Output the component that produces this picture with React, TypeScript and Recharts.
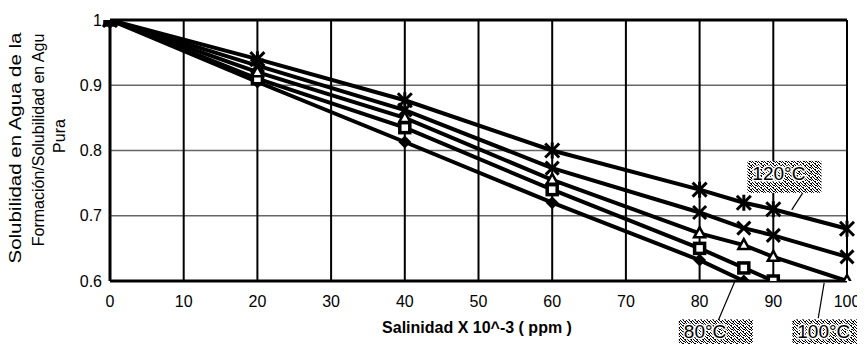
import React from "react";
import {
  LineChart,
  Line,
  CartesianGrid,
  XAxis,
  YAxis,
  ReferenceLine,
  ReferenceDot,
} from "recharts";

const FONT = "'Liberation Sans', Arial, sans-serif";

// salinity (x 10^-3 ppm) and solubility ratio per temperature
const salinidad = [0, 20, 40, 60, 80, 86, 90, 100];
const sol80 = [1, 0.905, 0.813, 0.72, 0.632, 0.6, 0.58, 0.535];
const sol90 = [1, 0.91, 0.835, 0.74, 0.65, 0.62, 0.6, 0.555];
const sol100 = [1, 0.92, 0.85, 0.755, 0.673, 0.655, 0.637, 0.6];
const sol110 = [1, 0.93, 0.862, 0.773, 0.705, 0.681, 0.67, 0.637];
const sol120 = [1, 0.94, 0.877, 0.8, 0.74, 0.72, 0.71, 0.68];

const xTicks = [0, 10, 20, 30, 40, 50, 60, 70, 80, 90, 100];
const yTicks = [0.6, 0.7, 0.8, 0.9, 1];

const data = salinidad.map((s, i) => ({
  s,
  t80: sol80[i],
  t90: sol90[i],
  t100: sol100[i],
  t110: sol110[i],
  t120: sol120[i],
}));

// speckle texture for the temperature tags
const grano = [
  [0, 0], [3, 0], [1, 1], [4, 1], [5, 1], [2, 2], [0, 3],
  [3, 3], [4, 3], [1, 4], [5, 4], [2, 5], [3, 5], [5, 2],
];

type DotProps = { cx?: number; cy?: number };

const StarDot = ({ cx, cy }: DotProps) => {
  if (cx == null || cy == null || isNaN(cy)) return null;
  const r = 7;
  return (
    <g stroke="#000" strokeWidth={3}>
      <line x1={cx - r} y1={cy - r} x2={cx + r} y2={cy + r} />
      <line x1={cx - r} y1={cy + r} x2={cx + r} y2={cy - r} />
      <line x1={cx} y1={cy - r - 1} x2={cx} y2={cy + r + 1} />
    </g>
  );
};

const CrossDot = ({ cx, cy }: DotProps) => {
  if (cx == null || cy == null || isNaN(cy)) return null;
  const r = 6.5;
  return (
    <g stroke="#000" strokeWidth={3}>
      <line x1={cx - r} y1={cy - r} x2={cx + r} y2={cy + r} />
      <line x1={cx - r} y1={cy + r} x2={cx + r} y2={cy - r} />
    </g>
  );
};

const TriDot = ({ cx, cy }: DotProps) => {
  if (cx == null || cy == null || isNaN(cy)) return null;
  return (
    <polygon
      points={`${cx},${cy - 6} ${cx + 5.5},${cy + 4} ${cx - 5.5},${cy + 4}`}
      fill="#fff"
      stroke="#000"
      strokeWidth={2.5}
    />
  );
};

const SquareDot = ({ cx, cy }: DotProps) => {
  if (cx == null || cy == null || isNaN(cy)) return null;
  return (
    <rect x={cx - 5} y={cy - 5} width={10} height={10} fill="#fff" stroke="#000" strokeWidth={3.5} />
  );
};

const DiamondDot = ({ cx, cy }: DotProps) => {
  if (cx == null || cy == null || isNaN(cy)) return null;
  return (
    <polygon
      points={`${cx},${cy - 6.5} ${cx + 6.5},${cy} ${cx},${cy + 6.5} ${cx - 6.5},${cy}`}
      fill="#000"
    />
  );
};

const TempTag = ({ cx, cy, text, id }: { cx?: number; cy?: number; text: string; id: string }) => {
  if (cx == null || cy == null) return null;
  return (
    <g>
      <defs>
        <pattern id={id} width={6} height={6} patternUnits="userSpaceOnUse">
          <rect width={6} height={6} fill="#fff" />
          {grano.map(([gx, gy], i) => (
            <rect key={i} x={gx} y={gy} width={1} height={1} fill="#000" />
          ))}
        </pattern>
      </defs>
      <rect x={cx - 37} y={cy - 19} width={74} height={32} fill={`url(#${id})`} />
      <text
        x={cx - 32}
        y={cy}
        fontFamily={FONT}
        fontSize={19}
        fill="#000"
        stroke="#fff"
        strokeWidth={3}
        paintOrder="stroke"
      >
        {text}
      </text>
    </g>
  );
};

const EjeY = () => (
  <g fontFamily={FONT} fontSize={16} fill="#000">
    <text
      transform="translate(13,140) rotate(-90)"
      textAnchor="middle"
      textLength={231}
      lengthAdjust="spacingAndGlyphs"
    >
      Solubilidad en Agua de la
    </text>
    <text transform="translate(36,132) rotate(-90)" textAnchor="middle">
      Formación/Solubilidad en Agu
    </text>
    <text transform="translate(57,128) rotate(-90)" textAnchor="middle">
      Pura
    </text>
  </g>
);

const EjeX = () => (
  <text x={469} y={325} textAnchor="middle" fontFamily={FONT} fontSize={16} fontWeight="bold" fill="#000">
    Salinidad X 10^-3 ( ppm )
  </text>
);

const App: React.FC = () => {
  return (
    <div>
      <LineChart
        width={857}
        height={336}
        data={data}
        margin={{ top: 12, right: 18, bottom: 33, left: 0 }}
      >
        <CartesianGrid vertical={false} stroke="#666" strokeWidth={1.5} />
        <CartesianGrid horizontal={false} stroke="#000" strokeWidth={2} />
        <XAxis
          dataKey="s"
          type="number"
          domain={[0, 100]}
          ticks={xTicks}
          height={30}
          tickSize={0}
          tickMargin={15}
          axisLine={{ stroke: "#000", strokeWidth: 3 }}
          tick={{ fill: "#000", fontSize: 16, fontFamily: FONT }}
          label={<EjeX />}
        />
        <YAxis
          type="number"
          domain={[0.6, 1]}
          allowDataOverflow
          ticks={yTicks}
          width={102}
          tickSize={0}
          tickMargin={8}
          tickFormatter={(v: number) => (v === 1 ? "1" : v.toFixed(1))}
          axisLine={{ stroke: "#000", strokeWidth: 3 }}
          tick={{ fill: "#000", fontSize: 16, fontFamily: FONT }}
          label={<EjeY />}
        />
        <ReferenceLine y={1} stroke="#000" strokeWidth={3} />

        <Line
          dataKey="t80"
          stroke="#000"
          strokeWidth={4}
          isAnimationActive={false}
          dot={(p: any) => <DiamondDot key={`d-${p.index}`} cx={p.cx} cy={p.cy} />}
        />
        <Line
          dataKey="t90"
          stroke="#000"
          strokeWidth={4}
          isAnimationActive={false}
          dot={(p: any) => <SquareDot key={`q-${p.index}`} cx={p.cx} cy={p.cy} />}
        />
        <Line
          dataKey="t100"
          stroke="#000"
          strokeWidth={4}
          isAnimationActive={false}
          dot={(p: any) => <TriDot key={`t-${p.index}`} cx={p.cx} cy={p.cy} />}
        />
        <Line
          dataKey="t110"
          stroke="#000"
          strokeWidth={4}
          isAnimationActive={false}
          dot={(p: any) => <CrossDot key={`x-${p.index}`} cx={p.cx} cy={p.cy} />}
        />
        <Line
          dataKey="t120"
          stroke="#000"
          strokeWidth={4}
          isAnimationActive={false}
          dot={(p: any) => <StarDot key={`e-${p.index}`} cx={p.cx} cy={p.cy} />}
        />

        <ReferenceLine
          segment={[{ x: 94, y: 0.735 }, { x: 92.5, y: 0.709 }]}
          stroke="#000"
          strokeWidth={1.2}
          ifOverflow="visible"
        />
        <ReferenceLine
          segment={[{ x: 82.4, y: 0.536 }, { x: 84.8, y: 0.6 }]}
          stroke="#000"
          strokeWidth={1.2}
          ifOverflow="visible"
        />
        <ReferenceLine
          segment={[{ x: 96.1, y: 0.543 }, { x: 96.9, y: 0.597 }]}
          stroke="#000"
          strokeWidth={1.2}
          ifOverflow="visible"
        />
        <ReferenceDot
          x={91.5}
          y={0.755}
          ifOverflow="visible"
          shape={(p: any) => <TempTag cx={p.cx} cy={p.cy} text="120°C" id="grano120" />}
        />
        <ReferenceDot
          x={82.2}
          y={0.512}
          ifOverflow="visible"
          shape={(p: any) => <TempTag cx={p.cx} cy={p.cy} text="80°C" id="grano80" />}
        />
        <ReferenceDot
          x={97.6}
          y={0.512}
          ifOverflow="visible"
          shape={(p: any) => <TempTag cx={p.cx} cy={p.cy} text="100°C" id="grano100" />}
        />
      </LineChart>
    </div>
  );
};

export default App;
